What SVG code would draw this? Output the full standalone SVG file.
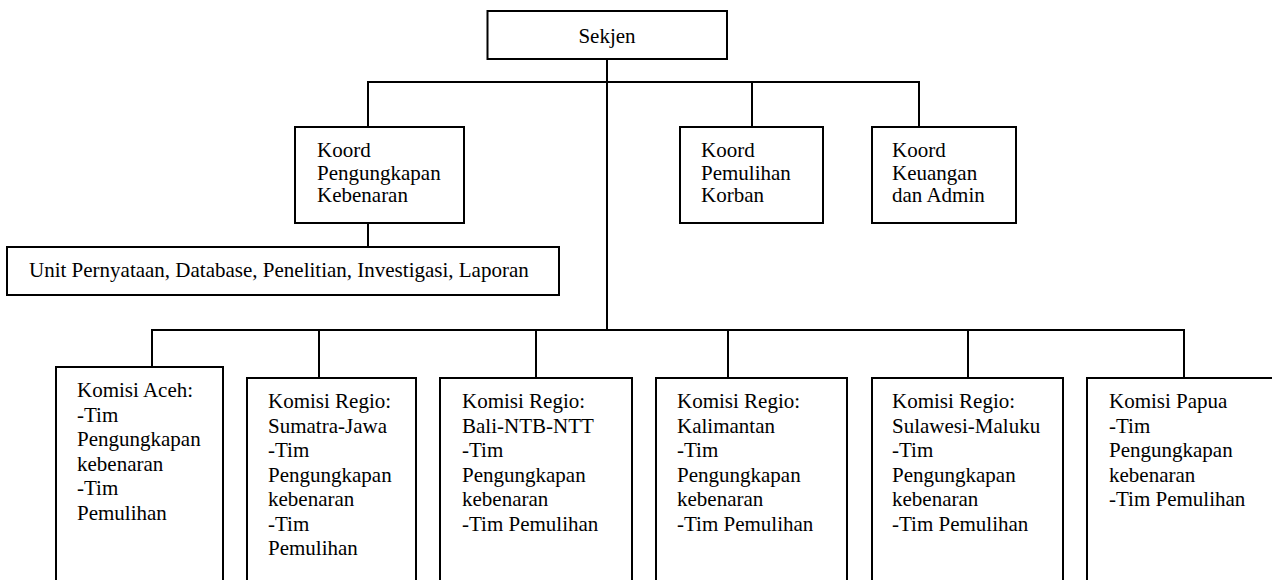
<svg xmlns="http://www.w3.org/2000/svg" width="1272" height="580" viewBox="0 0 1272 580" font-family="'Liberation Serif', 'Times New Roman', 'DejaVu Serif', serif" font-size="21">
<style>
.box{fill:#fff;stroke:#000;stroke-width:2}
.ln{fill:none;stroke:#000;stroke-width:2}
.t{font-family:'Liberation Serif','Times New Roman','DejaVu Serif',serif;font-size:21px;fill:#000}
</style>
<rect width="1272" height="580" fill="#fff"/>
<g id="connectors">
<path class="ln" d="M607 59V330"/>
<path class="ln" d="M368 127V82H919V127"/>
<path class="ln" d="M752 82V127"/>
<path class="ln" d="M368 223V247"/>
<path class="ln" d="M152 367V330H1184V378"/>
<path class="ln" d="M319 330V378M536 330V378M728 330V378M968 330V378"/>
</g>
<g id="sekjen">
<rect class="box" x="487.5" y="11" width="239.5" height="48"/>
<text class="t" x="607" y="43" text-anchor="middle">Sekjen</text>
</g>
<g id="koord-pengungkapan">
<rect class="box" x="295" y="127" width="169" height="96"/>
<text class="t" x="317" y="157">Koord</text>
<text class="t" x="317" y="180">Pengungkapan</text>
<text class="t" x="317" y="202">Kebenaran</text>
</g>
<g id="koord-pemulihan">
<rect class="box" x="680" y="127" width="143" height="96"/>
<text class="t" x="701" y="157">Koord</text>
<text class="t" x="701" y="180">Pemulihan</text>
<text class="t" x="701" y="202">Korban</text>
</g>
<g id="koord-keuangan">
<rect class="box" x="872" y="127" width="144" height="96"/>
<text class="t" x="892" y="157">Koord</text>
<text class="t" x="892" y="180">Keuangan</text>
<text class="t" x="892" y="202">dan Admin</text>
</g>
<g id="unit">
<rect class="box" x="7" y="247" width="552" height="48"/>
<text class="t" x="29" y="277">Unit Pernyataan, Database, Penelitian, Investigasi, Laporan</text>
</g>
<g id="komisi-aceh">
<rect class="box" x="56" y="367" width="167" height="240"/>
<text class="t" x="77" y="397">Komisi Aceh:</text>
<text class="t" x="77" y="421.5">-Tim</text>
<text class="t" x="77" y="446">Pengungkapan</text>
<text class="t" x="77" y="470.5">kebenaran</text>
<text class="t" x="77" y="495">-Tim</text>
<text class="t" x="77" y="519.5">Pemulihan</text>
</g>
<g id="komisi-sumatra">
<rect class="box" x="247" y="378" width="169" height="230"/>
<text class="t" x="268" y="408">Komisi Regio:</text>
<text class="t" x="268" y="432.5">Sumatra-Jawa</text>
<text class="t" x="268" y="457">-Tim</text>
<text class="t" x="268" y="481.5">Pengungkapan</text>
<text class="t" x="268" y="506">kebenaran</text>
<text class="t" x="268" y="530.5">-Tim</text>
<text class="t" x="268" y="555">Pemulihan</text>
</g>
<g id="komisi-bali">
<rect class="box" x="440" y="378" width="192" height="230"/>
<text class="t" x="462" y="408">Komisi Regio:</text>
<text class="t" x="462" y="432.5">Bali-NTB-NTT</text>
<text class="t" x="462" y="457">-Tim</text>
<text class="t" x="462" y="481.5">Pengungkapan</text>
<text class="t" x="462" y="506">kebenaran</text>
<text class="t" x="462" y="530.5">-Tim Pemulihan</text>
</g>
<g id="komisi-kalimantan">
<rect class="box" x="656" y="378" width="191" height="230"/>
<text class="t" x="677" y="408">Komisi Regio:</text>
<text class="t" x="677" y="432.5">Kalimantan</text>
<text class="t" x="677" y="457">-Tim</text>
<text class="t" x="677" y="481.5">Pengungkapan</text>
<text class="t" x="677" y="506">kebenaran</text>
<text class="t" x="677" y="530.5">-Tim Pemulihan</text>
</g>
<g id="komisi-sulawesi">
<rect class="box" x="872" y="378" width="191" height="230"/>
<text class="t" x="892" y="408">Komisi Regio:</text>
<text class="t" x="892" y="432.5">Sulawesi-Maluku</text>
<text class="t" x="892" y="457">-Tim</text>
<text class="t" x="892" y="481.5">Pengungkapan</text>
<text class="t" x="892" y="506">kebenaran</text>
<text class="t" x="892" y="530.5">-Tim Pemulihan</text>
</g>
<g id="komisi-papua">
<rect class="box" x="1087" y="378" width="200" height="230"/>
<text class="t" x="1109" y="408">Komisi Papua</text>
<text class="t" x="1109" y="432.5">-Tim</text>
<text class="t" x="1109" y="457">Pengungkapan</text>
<text class="t" x="1109" y="481.5">kebenaran</text>
<text class="t" x="1109" y="506">-Tim Pemulihan</text>
</g>
</svg>
